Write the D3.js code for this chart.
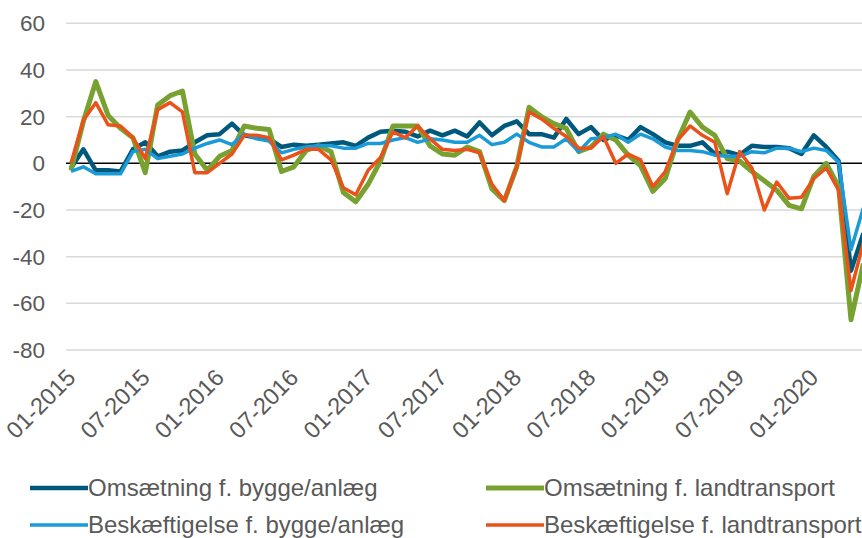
<!DOCTYPE html>
<html><head><meta charset="utf-8">
<script src="https://cdn.jsdelivr.net/npm/d3@7"></script>
<style>body{margin:0;background:#fff}svg{display:block}text{font-family:"Liberation Sans",Arial,sans-serif}</style>
</head><body>
<svg id="c" width="862" height="538"></svg>
<script>
const months = d3.range(0, 65); // 01-2015 .. 05-2020
const tickMonths = [0,6,12,18,24,30,36,42,48,54,60];
const tickLabels = ["01-2015","07-2015","01-2016","07-2016","01-2017","07-2017","01-2018","07-2018","01-2019","07-2019","01-2020"];
const yTicks = [60,40,20,0,-20,-40,-60,-80];
const seriesNames = ["Omsætning f. bygge/anlæg","Omsætning f. landtransport","Beskæftigelse f. bygge/anlæg","Beskæftigelse f. landtransport"];

const omsBygge = [-2,6,-3,-3,-3.5,6,9,3,5,5.5,9,12,12.5,17,12,11,10.5,7,8,7.5,8,8.5,9,7.5,11,13.5,14,13.5,11.5,14,12,14,11.5,17.5,12,16,18,12.5,12.5,11,19,12.5,15.5,10,12,10,15.5,12.5,9,7.5,7.5,9,4,5,3.5,7.5,7,7,6.5,4,12,7,1,-46,-30];
const omsLand = [-3,18,35,20.5,15,11,-4,25,29,31,4,-3,3,5.5,16,15,14.5,-3.5,-1.5,5.5,7.5,5,-12.5,-16.5,-9,1,16,16,16,7.5,4,3.5,7,5,-11,-16,-1.5,24,20,17,15,5,7,12.5,10,3.5,-1,-12,-6.5,10,22,15.5,12,2,1,-3.5,-7.5,-11.5,-18,-19.5,-5.5,0,-10,-67,-43];
const beskBygge = [-3.5,-1.5,-4.5,-4.5,-4.5,5,6,2,3,4,6.5,8.5,10,8,12.5,10.5,9.5,4.5,6,7,7.5,7.5,6.5,6.5,8.5,8.5,10,11,9,10.5,10,9,9,12,8,9,12.5,9,7,7,10.5,5,10.5,11,12.5,9,12.5,10.5,7,5.5,5.5,5,3.5,3,3,5,4.5,6.5,6.5,5,6.5,5.5,0.5,-37,-19];
const beskLand = [0,18.5,26,16.5,16,11,2,23,26,22,-4,-4,0,4,12,12,11,1.5,3.5,6,6,1.5,-10.5,-13.5,-3,2.5,13.5,11,16,10.5,6,5.5,6,4.5,-9,-16,-1.5,22,19,15,11.5,6.5,6.5,11.5,0,4,1.5,-10,-3.5,10,16,12,9,-13,5,-2,-20,-8,-15,-14.5,-6.5,-2,-11.5,-54.5,-34];

const colors = ["#00587D","#77A130","#1A9BD7","#EA5219"];
const widths = [4.5,5,3.5,3.5];
const seriesData = [omsBygge, omsLand, beskBygge, beskLand];

const svg = d3.select("#c");
const x = d3.scaleLinear().domain([0,63]).range([71,851]);
const y = d3.scaleLinear().domain([-80,60]).range([350,23.3]);
const fs = 22.5;
const fsX = 23.5;
const fsL = 24;

// gridlines
svg.append("g").selectAll("line").data(yTicks.filter(d=>d!==0)).join("line")
  .attr("x1",66).attr("x2",862).attr("y1",d=>y(d)).attr("y2",d=>y(d))
  .attr("stroke","#d9d9d9").attr("stroke-width",1.5);

// y labels
svg.append("g").selectAll("text").data(yTicks).join("text")
  .attr("x",45).attr("y",d=>y(d)).attr("dy","0.35em").attr("text-anchor","end")
  .attr("font-size",fs).attr("fill","#595959").text(d=>d);

// zero line
svg.append("line").attr("x1",66).attr("x2",862).attr("y1",y(0)).attr("y2",y(0))
  .attr("stroke","#000").attr("stroke-width",1.5);

// x labels
svg.append("g").selectAll("text").data(tickMonths).join("text")
  .attr("transform",(d)=>`translate(${x(d)+6},${379}) rotate(-45)`)
  .attr("text-anchor","end").attr("font-size",fsX).attr("fill","#595959")
  .text((d,i)=>tickLabels[i]);

// lines
const line = d3.line().x((d,i)=>x(months[i])).y(d=>y(d));
seriesData.forEach((s,k)=>{
  svg.append("path").datum(s).attr("d",line).attr("fill","none")
    .attr("stroke",colors[k]).attr("stroke-width",widths[k]).attr("stroke-linejoin","round");
});

// legend
const leg = [{x:30,y:488},{x:486,y:488},{x:30,y:525},{x:486,y:525}];
seriesNames.forEach((n,k)=>{
  const p = leg[k];
  svg.append("line").attr("x1",p.x).attr("x2",p.x+58).attr("y1",p.y).attr("y2",p.y)
    .attr("stroke",colors[k]).attr("stroke-width",widths[k]);
  svg.append("text").attr("x",p.x+58).attr("y",p.y).attr("dy","0.35em")
    .attr("font-size",fsL).attr("fill","#595959").text(n);
});
</script>
</body></html>
